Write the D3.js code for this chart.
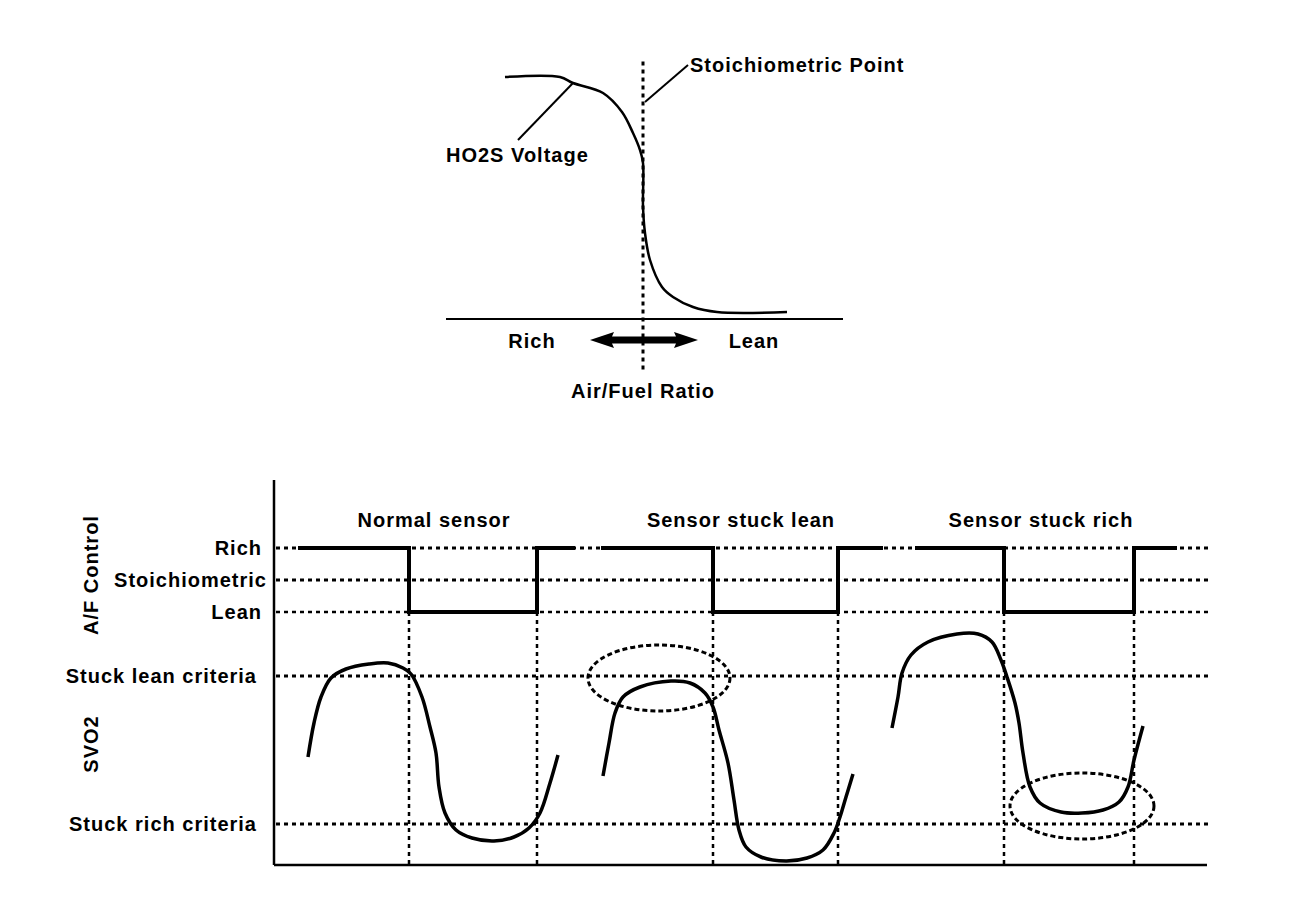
<!DOCTYPE html>
<meta charset="utf-8">
<style>
body { margin: 0; background: #fff; }
svg text { font-family: "Liberation Sans", Arial, sans-serif; font-weight: bold; font-size: 20px; letter-spacing: 1px; fill: #000; }
.dot { fill: none; stroke: #000; stroke-width: 3px; stroke-dasharray: 4,4; }
.thin { stroke-width: 2.5px; }
</style>
<body>
<script src="https://cdn.jsdelivr.net/npm/d3@7"></script>
<script>

// ---- top chart: HO2S voltage vs air/fuel ratio ----
var stoichAFR = 14.7;
var ho2sCurve = [[11.94,0.968],[13.04,0.968],[13.30,0.944],[13.90,0.904],[14.28,0.828],[14.50,0.744],
  [14.64,0.676],[14.70,0.624],[14.70,0.45],[14.74,0.344],[14.84,0.236],[15.08,0.128],
  [15.30,0.088],[15.70,0.048],[16.18,0.028],[17.58,0.028]];
var ho2sLeader = [[13.30,0.944],[12.20,0.716]];
var stoichLeader = [[14.74,0.868],[15.60,1.016]];

// ---- bottom chart: A/F control and SVO2 signal over time ----
var afLevels = ["Rich", "Stoichiometric", "Lean"];
var scenarios = ["Normal sensor", "Sensor stuck lean", "Sensor stuck rich"];
var scenarioCenter = [160, 467, 767];
// rich start, switch to lean, switch back to rich, end
var afSwitch = [[24,135,263,301],[327,439,564,609],[641,730,860,903]];
var criteriaNames = ["Stuck lean criteria", "Stuck rich criteria"];
var criteriaMv = [756, 164];

var svoTime = [
  [34,40,47,57,72,95,114,129,137,148,156,162,165,171,182,198,220,240,255,266,276,284],
  [329,335,341,349,366,397,416,431,439,445,454,460,465,472,487,512,533,549,560,566,572,579],
  [618,624,628,637,654,683,704,718,727,733,741,745,749,756,766,787,808,829,845,854,860,869]
];
var svoMv = [
  [432,568,672,748,784,804,808,788,764,672,552,448,312,208,140,108,96,112,148,208,328,440],
  [356,488,608,672,712,736,728,688,632,540,408,260,140,72,32,16,28,60,128,192,272,364],
  [548,672,768,840,892,924,924,892,820,752,648,568,448,312,248,212,208,220,252,312,420,556]
];
// dotted rings: centre time, centre mV, half width (time), half height (mV)
var ringT = [385, 808], ringMv = [748, 236], ringRt = [71, 72], ringRv = [132, 132];

var W = 1312, H = 902;
var svg = d3.select("body").append("svg").attr("width", W).attr("height", H);

// ================= top chart =================
var xA = d3.scaleLinear().domain([10.76, 18.7]).range([446, 843]);
var yA = d3.scaleLinear().domain([0, 1]).range([319, 69]);
var upper = svg.append("g");

upper.append("line")
  .attr("x1", xA.range()[0]).attr("x2", xA.range()[1])
  .attr("y1", yA(0)).attr("y2", yA(0))
  .attr("stroke", "#000").attr("stroke-width", 2);

upper.append("line").attr("class", "dot")
  .attr("x1", xA(stoichAFR)).attr("x2", xA(stoichAFR))
  .attr("y1", yA(1.03)).attr("y2", yA(-0.205));

var lineA = d3.line().x(function(d) { return xA(d[0]); }).y(function(d) { return yA(d[1]); });

upper.append("path").datum(ho2sCurve)
  .attr("d", lineA.curve(d3.curveCatmullRom.alpha(0.5)))
  .attr("fill", "none").attr("stroke", "#000").attr("stroke-width", 2.5);

lineA.curve(d3.curveLinear);
[ho2sLeader, stoichLeader].forEach(function(l) {
  upper.append("path").datum(l).attr("d", lineA)
    .attr("fill", "none").attr("stroke", "#000").attr("stroke-width", 2);
});

upper.append("text").attr("x", xA(ho2sLeader[1][0]) - 72).attr("y", yA(ho2sLeader[1][1]) + 22)
  .text("HO2S Voltage");
upper.append("text").attr("x", xA(stoichLeader[1][0]) + 2).attr("y", yA(stoichLeader[1][1]) + 7)
  .text("Stoichiometric Point");

// double arrow rich <-> lean
var ay = yA(0) + 21, ax0 = xA(stoichAFR) - 53, ax1 = xA(stoichAFR) + 55;
upper.append("path")
  .attr("d", "M" + ax0 + "," + ay +
    "L" + (ax0 + 24) + "," + (ay - 8) + "L" + (ax0 + 22) + "," + (ay - 3.5) +
    "L" + (ax1 - 22) + "," + (ay - 3.5) + "L" + (ax1 - 24) + "," + (ay - 8) +
    "L" + ax1 + "," + ay +
    "L" + (ax1 - 24) + "," + (ay + 8) + "L" + (ax1 - 22) + "," + (ay + 3.5) +
    "L" + (ax0 + 22) + "," + (ay + 3.5) + "L" + (ax0 + 24) + "," + (ay + 8) + "Z")
  .attr("fill", "#000");

upper.append("text").attr("x", xA(stoichAFR) - 111).attr("y", yA(0) + 29)
  .attr("text-anchor", "middle").text("Rich");
upper.append("text").attr("x", xA(stoichAFR) + 111).attr("y", yA(0) + 29)
  .attr("text-anchor", "middle").text("Lean");
upper.append("text").attr("x", xA(stoichAFR)).attr("y", yA(0) + 79)
  .attr("text-anchor", "middle").text("Air/Fuel Ratio");

// ================= bottom chart =================
var xT = d3.scaleLinear().domain([0, 933]).range([274, 1207]);
var yAF = d3.scalePoint().domain(afLevels).range([548, 612]);
var yV = d3.scaleLinear().domain([0, 1000]).range([865, 615]);
var panelTop = 480;
var bot = svg.append("g");

// dotted reference lines
afLevels.forEach(function(l) {
  bot.append("line").attr("class", "dot" + (l === "Lean" ? " thin" : ""))
    .attr("x1", xT(2)).attr("x2", xT(938)).attr("y1", yAF(l)).attr("y2", yAF(l));
  bot.append("text").attr("x", l === "Stoichiometric" ? xT(-7) : xT(-12))
    .attr("y", yAF(l)).attr("dy", "0.36em").attr("text-anchor", "end").text(l);
});
criteriaMv.forEach(function(v, i) {
  bot.append("line").attr("class", "dot")
    .attr("x1", xT(2)).attr("x2", xT(938)).attr("y1", yV(v)).attr("y2", yV(v));
  bot.append("text").attr("x", xT(-17)).attr("y", yV(v)).attr("dy", "0.36em")
    .attr("text-anchor", "end").text(criteriaNames[i]);
});

// switch markers
afSwitch.forEach(function(s) {
  [s[1], s[2]].forEach(function(t) {
    bot.append("line").attr("class", "dot thin")
      .attr("x1", xT(t)).attr("x2", xT(t)).attr("y1", yAF("Lean")).attr("y2", yV(0));
  });
});

// axes
bot.append("line").attr("x1", xT(0)).attr("x2", xT(0)).attr("y1", panelTop).attr("y2", yV(0))
  .attr("stroke", "#000").attr("stroke-width", 2.5);
bot.append("line").attr("x1", xT(0)).attr("x2", xT(933)).attr("y1", yV(0)).attr("y2", yV(0))
  .attr("stroke", "#000").attr("stroke-width", 2.5);

// A/F control square waves
var stepLine = d3.line().curve(d3.curveStepAfter)
  .x(function(d) { return xT(d[0]); }).y(function(d) { return yAF(d[1]); });
afSwitch.forEach(function(s, i) {
  var pts = [[s[0], "Rich"], [s[1], "Lean"], [s[2], "Rich"], [s[3], "Rich"]];
  bot.append("path").datum(pts).attr("d", stepLine)
    .attr("fill", "none").attr("stroke", "#000").attr("stroke-width", 4);
  bot.append("text").attr("x", xT(scenarioCenter[i])).attr("y", 527)
    .attr("text-anchor", "middle").text(scenarios[i]);
});

// SVO2 signal
var svoLine = d3.line().curve(d3.curveCatmullRom.alpha(0.5))
  .x(function(d) { return xT(d[0]); }).y(function(d) { return yV(d[1]); });
svoTime.forEach(function(ts, i) {
  var pts = ts.map(function(t, j) { return [t, svoMv[i][j]]; });
  bot.append("path").datum(pts).attr("d", svoLine)
    .attr("fill", "none").attr("stroke", "#000").attr("stroke-width", 3.5);
});

// dotted rings
ringT.forEach(function(t, i) {
  bot.append("ellipse")
    .attr("cx", xT(t)).attr("cy", yV(ringMv[i]))
    .attr("rx", xT(t + ringRt[i]) - xT(t))
    .attr("ry", yV(ringMv[i] - ringRv[i]) - yV(ringMv[i]))
    .attr("fill", "none").attr("stroke", "#000").attr("stroke-width", 3)
    .attr("stroke-dasharray", "5,3");
});

// side titles
[["A/F Control", 575], ["SVO2", 744]].forEach(function(d) {
  bot.append("text").attr("transform", "translate(98," + d[1] + ") rotate(-90)")
    .attr("text-anchor", "middle").text(d[0]);
});

</script>
</body>
